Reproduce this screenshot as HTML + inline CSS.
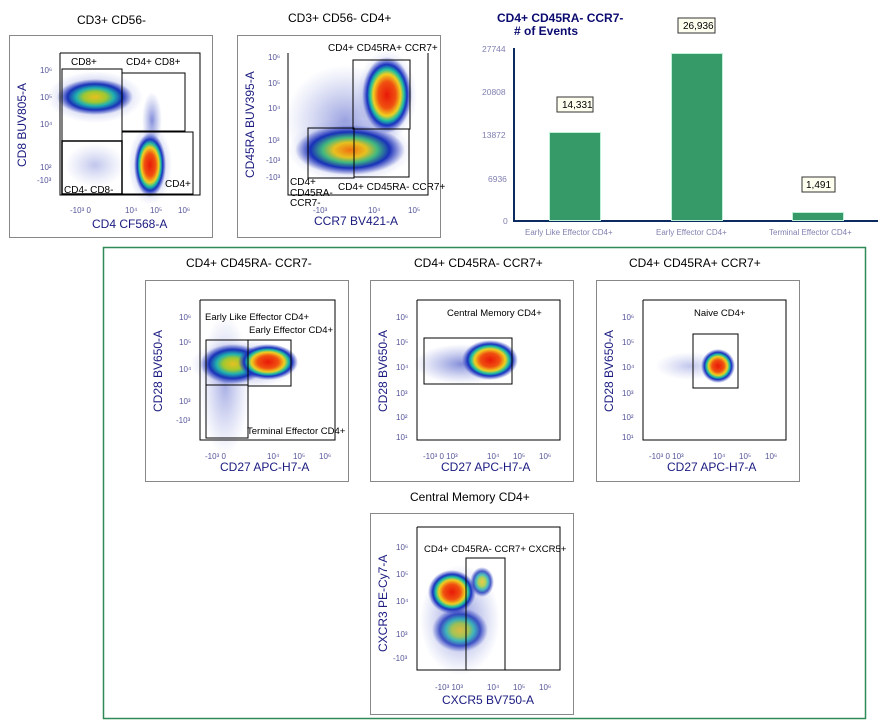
<!DOCTYPE html>
<html><head><style>
body{margin:0;background:#fff;}
svg text{font-family:"Liberation Sans",sans-serif;}
</style></head><body>
<svg width="885" height="722" viewBox="0 0 885 722" xmlns="http://www.w3.org/2000/svg">
<defs>
<radialGradient id="hot"><stop offset="0" stop-color="#e81808"/><stop offset="0.35" stop-color="#f05010"/><stop offset="0.55" stop-color="#f0d020"/><stop offset="0.68" stop-color="#20c0a0"/><stop offset="0.8" stop-color="#1830c0"/><stop offset="1" stop-color="#3040c0" stop-opacity="0"/></radialGradient>
<radialGradient id="warm"><stop offset="0" stop-color="#e8c020"/><stop offset="0.3" stop-color="#a0c830"/><stop offset="0.5" stop-color="#20b0b0"/><stop offset="0.72" stop-color="#1830b8"/><stop offset="1" stop-color="#3040c0" stop-opacity="0"/></radialGradient>
<radialGradient id="mixed"><stop offset="0" stop-color="#f07010"/><stop offset="0.3" stop-color="#e8c020"/><stop offset="0.5" stop-color="#40b880"/><stop offset="0.72" stop-color="#1830b8"/><stop offset="1" stop-color="#3040c0" stop-opacity="0"/></radialGradient>
<radialGradient id="faint"><stop offset="0" stop-color="#3040c0" stop-opacity="0.6"/><stop offset="1" stop-color="#6070d0" stop-opacity="0"/></radialGradient>
</defs>
<g font-size="11" fill="#000">
<!-- top panel 1 -->
<text x="77" y="24" font-size="12">CD3+ CD56-</text>
<rect x="9.5" y="35.5" width="203" height="202" fill="none" stroke="#888"/>
<ellipse cx="95" cy="97" rx="48" ry="26" fill="url(#faint)"/>
<ellipse cx="95" cy="97" rx="38" ry="18" fill="url(#warm)"/>
<ellipse cx="150" cy="165" rx="22" ry="40" fill="url(#faint)"/>
<ellipse cx="150" cy="165" rx="16" ry="32" fill="url(#hot)"/>
<ellipse cx="152" cy="120" rx="10" ry="28" fill="url(#faint)"/>
<ellipse cx="95" cy="165" rx="30" ry="22" fill="url(#faint)" opacity="0.5"/>
<polyline points="60,53 60,195 200,195 200,53 60,53" fill="none" stroke="#000"/>
<rect x="62" y="69" width="60" height="72" fill="none" stroke="#000"/>
<rect x="122" y="73" width="63" height="58" fill="none" stroke="#000"/>
<rect x="62" y="141" width="60" height="53" fill="none" stroke="#000" stroke-width="1.5"/>
<rect x="122" y="132" width="71" height="62" fill="none" stroke="#000"/>
<text x="71" y="65" font-size="10">CD8+</text>
<text x="126" y="65" font-size="10">CD4+ CD8+</text>
<text x="64" y="193" font-size="10">CD4- CD8-</text>
<text x="165" y="187" font-size="10">CD4+</text>
<g fill="#55559a" font-size="8"><text x="40" y="73">10⁶</text><text x="40" y="100">10⁵</text><text x="40" y="127">10⁴</text><text x="40" y="170">10²</text><text x="37" y="183">-10³</text>
<text x="70" y="213">-10³ 0</text><text x="125" y="213">10⁴</text><text x="150" y="213">10⁵</text><text x="178" y="213">10⁶</text></g>
<text x="92" y="228" font-size="12" fill="#1a1a80">CD4 CF568-A</text>
<text transform="translate(26,167) rotate(-90)" font-size="12" fill="#1a1a80">CD8 BUV805-A</text>
<!-- top panel 2 -->
<text x="288" y="22" font-size="12">CD3+ CD56- CD4+</text>
<rect x="237.5" y="35.5" width="203" height="202" fill="none" stroke="#888"/>
<ellipse cx="345" cy="120" rx="60" ry="55" fill="url(#faint)" opacity="0.8"/>
<ellipse cx="350" cy="150" rx="62" ry="32" fill="url(#faint)"/>
<ellipse cx="350" cy="150" rx="55" ry="25" fill="url(#mixed)"/>
<ellipse cx="387" cy="95" rx="30" ry="45" fill="url(#faint)"/>
<ellipse cx="387" cy="95" rx="25" ry="38" fill="url(#hot)"/>
<polyline points="288,53 288,195 428,195 428,53" fill="none" stroke="#000"/>
<rect x="353" y="60" width="57" height="69" fill="none" stroke="#000"/>
<rect x="308" y="128" width="46" height="50" fill="none" stroke="#000"/>
<rect x="354" y="129" width="55" height="48" fill="none" stroke="#000"/>
<text x="328" y="51" font-size="10">CD4+ CD45RA+ CCR7+</text>
<text x="290" y="185" font-size="10">CD4+</text><text x="290" y="196" font-size="10">CD45RA-</text><text x="290" y="206" font-size="10">CCR7-</text>
<text x="338" y="190" font-size="10">CD4+ CD45RA- CCR7+</text>
<g fill="#55559a" font-size="8"><text x="268" y="60">10⁶</text><text x="268" y="86">10⁵</text><text x="268" y="111">10⁴</text><text x="268" y="143">10³</text><text x="266" y="163">-10³</text><text x="266" y="180">-10³</text>
<text x="313" y="213">-10³</text><text x="368" y="213">10⁴</text><text x="408" y="213">10⁵</text></g>
<text x="314" y="225" font-size="12" fill="#1a1a80">CCR7 BV421-A</text>
<text transform="translate(254,178) rotate(-90)" font-size="12" fill="#1a1a80">CD45RA BUV395-A</text>
<!-- bar chart -->
<text x="497" y="22" font-size="12" font-weight="bold" fill="#0a0a70">CD4+ CD45RA- CCR7-</text>
<text x="514" y="35" font-size="12" font-weight="bold" fill="#0a0a70"># of Events</text>
<g fill="#8080b0" font-size="8.5"><text x="482" y="52">27744</text><text x="482" y="95">20808</text><text x="482" y="138">13872</text><text x="488" y="182">6936</text><text x="503" y="224">0</text></g>
<line x1="514" y1="48" x2="514" y2="221" stroke="#0a2a60" stroke-width="2"/>
<line x1="513" y1="221" x2="878" y2="221" stroke="#0a2a60" stroke-width="2"/>
<rect x="549.5" y="132.5" width="51" height="88" fill="#359a68" stroke="#c0f0d8"/>
<rect x="671.5" y="53.5" width="51" height="167" fill="#359a68" stroke="#c0f0d8"/>
<rect x="792.5" y="212.5" width="51" height="8" fill="#359a68" stroke="#c0f0d8"/>
<g fill="#fffff0" stroke="#333"><rect x="557" y="97" width="36" height="15"/><rect x="678" y="18" width="37" height="15"/><rect x="802" y="177" width="33" height="15"/></g>
<text x="562" y="108" font-size="10">14,331</text><text x="683" y="29" font-size="10">26,936</text><text x="806" y="188" font-size="10">1,491</text>
<g fill="#8080b0" font-size="8"><text x="525" y="235">Early Like Effector CD4+</text><text x="656" y="235">Early Effector CD4+</text><text x="769" y="235">Terminal Effector CD4+</text></g>
<!-- green box -->
<rect x="103.5" y="247.5" width="762" height="471" fill="none" stroke="#2e8b57" stroke-width="1.5"/>
<!-- lower panel 1 -->
<text x="186" y="267" font-size="12">CD4+ CD45RA- CCR7-</text>
<rect x="145.5" y="280.5" width="203" height="201" fill="none" stroke="#888"/>
<ellipse cx="225" cy="385" rx="25" ry="70" fill="url(#faint)" opacity="0.7"/>
<ellipse cx="245" cy="364" rx="55" ry="24" fill="url(#faint)"/>
<ellipse cx="233" cy="364" rx="33" ry="20" fill="url(#warm)"/>
<ellipse cx="268" cy="362" rx="30" ry="18" fill="url(#hot)"/>
<polyline points="200,300 200,440 335,440 335,300 200,300" fill="none" stroke="#000"/>
<rect x="206" y="340" width="42" height="98" fill="none" stroke="#000"/>
<rect x="206" y="340" width="42" height="45" fill="none" stroke="#000"/>
<rect x="248" y="340" width="43" height="46" fill="none" stroke="#000"/>
<text x="205" y="320" font-size="9.5">Early Like Effector CD4+</text>
<text x="249" y="333" font-size="9.5">Early Effector CD4+</text>
<text x="247" y="434" font-size="9.5">Terminal Effector CD4+</text>
<g fill="#55559a" font-size="8"><text x="179" y="320">10⁶</text><text x="179" y="345">10⁵</text><text x="179" y="372">10⁴</text><text x="179" y="404">10³</text><text x="176" y="423">-10³</text>
<text x="205" y="459">-10³ 0</text><text x="267" y="459">10⁴</text><text x="293" y="459">10⁵</text><text x="319" y="459">10⁶</text></g>
<text x="220" y="471" font-size="12" fill="#1a1a80">CD27 APC-H7-A</text>
<text transform="translate(162,412) rotate(-90)" font-size="12" fill="#1a1a80">CD28 BV650-A</text>
<!-- lower panel 2 -->
<text x="414" y="267" font-size="12">CD4+ CD45RA- CCR7+</text>
<rect x="370.5" y="280.5" width="203" height="201" fill="none" stroke="#888"/>
<ellipse cx="462" cy="364" rx="48" ry="20" fill="url(#faint)"/>
<ellipse cx="490" cy="360" rx="28" ry="20" fill="url(#hot)"/>
<polyline points="417,300 417,440 560,440 560,300 417,300" fill="none" stroke="#000"/>
<rect x="424" y="338" width="88" height="46" fill="none" stroke="#000"/>
<text x="447" y="316" font-size="9.5">Central Memory CD4+</text>
<g fill="#55559a" font-size="8"><text x="396" y="320">10⁶</text><text x="396" y="345">10⁵</text><text x="396" y="370">10⁴</text><text x="396" y="396">10³</text><text x="396" y="420">10²</text><text x="396" y="440">10¹</text>
<text x="423" y="459">-10³ 0 10³</text><text x="487" y="459">10⁴</text><text x="513" y="459">10⁵</text><text x="539" y="459">10⁶</text></g>
<text x="441" y="471" font-size="12" fill="#1a1a80">CD27 APC-H7-A</text>
<text transform="translate(387,412) rotate(-90)" font-size="12" fill="#1a1a80">CD28 BV650-A</text>
<!-- lower panel 3 -->
<text x="629" y="267" font-size="12">CD4+ CD45RA+ CCR7+</text>
<rect x="596.5" y="280.5" width="203" height="201" fill="none" stroke="#888"/>
<ellipse cx="690" cy="366" rx="35" ry="14" fill="url(#faint)" opacity="0.5"/>
<ellipse cx="718" cy="366" rx="17" ry="17" fill="url(#hot)" transform="rotate(-30 718 366)"/>
<polyline points="643,300 643,440 786,440 786,300 643,300" fill="none" stroke="#000"/>
<rect x="693" y="334" width="45" height="54" fill="none" stroke="#000"/>
<text x="694" y="316" font-size="9.5">Naive CD4+</text>
<g fill="#55559a" font-size="8"><text x="622" y="320">10⁶</text><text x="622" y="345">10⁵</text><text x="622" y="370">10⁴</text><text x="622" y="396">10³</text><text x="622" y="420">10²</text><text x="622" y="440">10¹</text>
<text x="649" y="459">-10³ 0 10³</text><text x="713" y="459">10⁴</text><text x="739" y="459">10⁵</text><text x="765" y="459">10⁶</text></g>
<text x="667" y="471" font-size="12" fill="#1a1a80">CD27 APC-H7-A</text>
<text transform="translate(613,412) rotate(-90)" font-size="12" fill="#1a1a80">CD28 BV650-A</text>
<!-- bottom panel -->
<text x="410" y="501" font-size="12">Central Memory CD4+</text>
<rect x="370.5" y="513.5" width="203" height="201" fill="none" stroke="#888"/>
<ellipse cx="460" cy="620" rx="40" ry="55" fill="url(#faint)"/>
<ellipse cx="452" cy="592" rx="24" ry="22" fill="url(#hot)"/>
<ellipse cx="460" cy="630" rx="28" ry="22" fill="url(#warm)" opacity="0.8"/>
<ellipse cx="482" cy="582" rx="12" ry="15" fill="url(#warm)" opacity="0.8"/>
<polyline points="417,527 417,670 560,670 560,527 417,527" fill="none" stroke="#000"/>
<rect x="466" y="558" width="39" height="112" fill="none" stroke="#000"/>
<text x="424" y="552" font-size="9.5">CD4+ CD45RA- CCR7+ CXCR5+</text>
<g fill="#55559a" font-size="8"><text x="396" y="550">10⁶</text><text x="396" y="577">10⁵</text><text x="396" y="604">10⁴</text><text x="396" y="637">10³</text><text x="393" y="661">-10³</text>
<text x="435" y="690">-10³ 10³</text><text x="487" y="690">10⁴</text><text x="513" y="690">10⁵</text><text x="539" y="690">10⁶</text></g>
<text x="442" y="704" font-size="12" fill="#1a1a80">CXCR5 BV750-A</text>
<text transform="translate(387,652) rotate(-90)" font-size="12" fill="#1a1a80">CXCR3 PE-Cy7-A</text>
</g>
</svg>
</body></html>
